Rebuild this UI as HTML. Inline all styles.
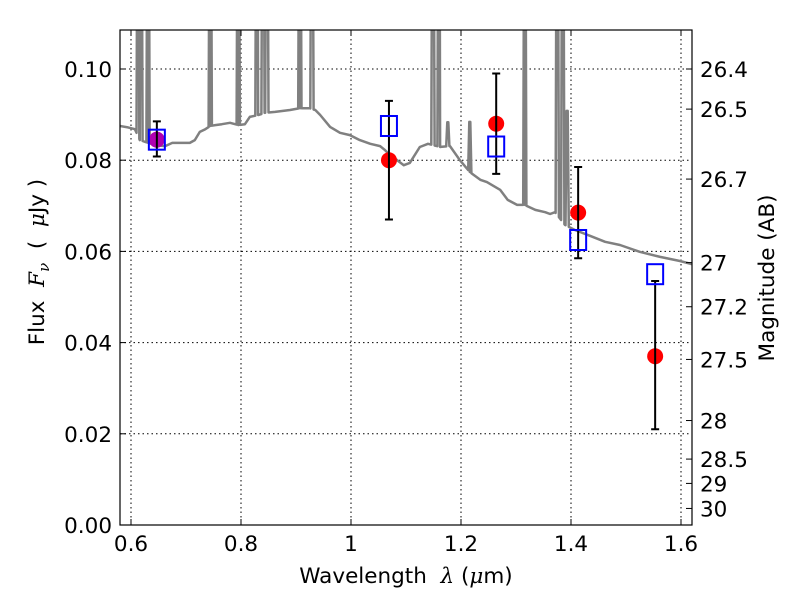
<!DOCTYPE html>
<html><head><meta charset="utf-8"><style>
body{margin:0;background:#fff}
svg text{font-family:"DejaVu Sans","Liberation Sans",sans-serif;font-size:21.5px;fill:#000}
</style></head><body>
<svg id="chart" width="800" height="600" xmlns="http://www.w3.org/2000/svg">
<defs><clipPath id="clip"><rect x="120" y="30" width="572" height="495"/></clipPath></defs>
<g id="grid"></g>
<g id="spec" clip-path="url(#clip)"></g>
<g id="marks"></g>
<rect x="120" y="30" width="572" height="495" fill="none" stroke="#000" stroke-width="1.2"/>
<g id="axes"></g>
<text x="406" y="583" text-anchor="middle" xml:space="preserve">Wavelength  <tspan font-style="italic" font-family="DejaVu Serif">λ</tspan> (<tspan font-style="italic" font-family="DejaVu Serif">μ</tspan>m)</text>
<text transform="translate(44,262) rotate(-90)" text-anchor="middle" xml:space="preserve">Flux  <tspan font-style="italic" font-family="DejaVu Serif">F</tspan><tspan font-style="italic" font-family="DejaVu Serif" font-size="15" dy="5">ν</tspan><tspan dy="-5">  (  </tspan><tspan font-style="italic" font-family="DejaVu Serif">μ</tspan>Jy )</text>
<text transform="translate(774,278) rotate(-90)" text-anchor="middle">Magnitude (AB)</text>
</svg>
<script>
const contLam=[0.580,0.5945,0.607,0.616,0.631,0.644,0.662,0.675,0.689,0.707,0.716,0.725,0.735,0.744,0.753,0.765,0.780,0.795,0.807,0.816,0.831,0.844,0.862,0.889,0.907,0.925,0.935,0.944,0.962,0.980,0.998,1.016,1.035,1.053,1.062,1.071,1.084,1.096,1.107,1.125,1.140,1.162,1.180,1.198,1.216,1.235,1.247,1.271,1.285,1.302,1.316,1.335,1.353,1.362,1.371,1.389,1.407,1.435,1.462,1.489,1.525,1.562,1.598,1.620];
const contFlux=[0.0875,0.0872,0.0868,0.0844,0.0838,0.0833,0.0831,0.0838,0.0838,0.0838,0.0844,0.0862,0.0868,0.0875,0.0877,0.0879,0.0882,0.0877,0.0879,0.0895,0.0899,0.0904,0.0906,0.0910,0.0914,0.0914,0.0910,0.0899,0.0873,0.0860,0.0855,0.0844,0.0836,0.0831,0.0822,0.0811,0.0800,0.0789,0.0794,0.0829,0.0836,0.0829,0.0831,0.0800,0.0774,0.0757,0.0752,0.0735,0.0713,0.0702,0.0702,0.0691,0.0686,0.0682,0.0686,0.0658,0.0647,0.0634,0.0621,0.0614,0.0599,0.0588,0.0579,0.0572];
const lineLam=[0.613,0.618,0.631,0.744,0.795,0.829,0.840,0.847,0.907,0.929,1.149,1.160,1.176,1.216,1.316,1.375,1.385,1.393];
const linePeak=[0.15,0.15,0.15,0.15,0.15,0.15,0.15,0.15,0.15,0.15,0.15,0.15,0.0883,0.0884,0.15,0.15,0.15,0.0908];
const photLam=[0.647,1.069,1.264,1.413,1.553];
const obsFlux=[0.0845,0.080,0.088,0.0685,0.037];
const errLo=[0.0808,0.067,0.077,0.0585,0.021];
const errHi=[0.0885,0.093,0.099,0.0785,0.0535];
const modelFlux=[0.0845,0.0875,0.083,0.0625,0.055];
const xTicks=[0.6,0.8,1.0,1.2,1.4,1.6];
const xTickLabels=["0.6","0.8","1","1.2","1.4","1.6"];
const yTicks=[0,0.02,0.04,0.06,0.08,0.10];
const yTickLabels=["0.00","0.02","0.04","0.06","0.08","0.10"];
const magTicks=[26.4,26.5,26.7,27,27.2,27.5,28,28.5,29,30];
const magTickLabels=["26.4","26.5","26.7","27","27.2","27.5","28","28.5","29","30"];
const X0=120,X1=692,Y0=525,Y1=30,xmin=0.58,xmax=1.62,ymin=0,ymax=0.10855;
const sx=v=>X0+(v-xmin)/(xmax-xmin)*(X1-X0);
const sy=v=>Y0-(v-ymin)/(ymax-ymin)*(Y0-Y1);
const NS="http://www.w3.org/2000/svg";
function mk(tag,attrs,parent){const e=document.createElementNS(NS,tag);for(const k in attrs)e.setAttribute(k,attrs[k]);parent.appendChild(e);return e;}
const grid=document.getElementById('grid'),axes=document.getElementById('axes');
xTicks.forEach((t,i)=>{
  const g=mk('line',{x1:sx(t),x2:sx(t),y1:Y1,y2:Y0,stroke:'#000','stroke-dasharray':'1.5,3','stroke-width':1},grid);
  
  
  const tk=mk('path',{d:`M${sx(t)},${Y0}v-6M${sx(t)},${Y1}v6`,stroke:'#000'},axes);
  
  
  const l=mk('text',{x:sx(t),y:Y0+26,'text-anchor':'middle'},axes);l.textContent=xTickLabels[i];
  
  
});
yTicks.forEach((t,i)=>{
  if(t>0){const g=mk('line',{x1:X0,x2:X1,y1:sy(t),y2:sy(t),stroke:'#000','stroke-dasharray':'1.5,3','stroke-width':1},grid);
  
  }
  const tk=mk('path',{d:`M${X0},${sy(t)}h6`,stroke:'#000'},axes);
  
  
  const l=mk('text',{x:X0-8,y:sy(t)+8,'text-anchor':'end'},axes);l.textContent=yTickLabels[i];
  
  
});
magTicks.forEach((m,i)=>{
  const f=Math.pow(10,(23.9-m)/2.5);const y=sy(f);
  const tk=mk('path',{d:`M${X1},${y}h-6`,stroke:'#000'},axes);
  
  
  const l=mk('text',{x:X1+8,y:y+8,'text-anchor':'start'},axes);l.textContent=magTickLabels[i];
  
  
});
function cont(l){for(let i=0;i<contLam.length-1;i++){if(l>=contLam[i]&&l<=contLam[i+1]){const t=(l-contLam[i])/(contLam[i+1]-contLam[i]);return contFlux[i]+t*(contFlux[i+1]-contFlux[i]);}}return contFlux[contFlux.length-1];}
let pts=contLam.map((l,i)=>[l,contFlux[i]]);
lineLam.forEach((l,i)=>{pts.push([l-0.003,cont(l-0.003)]);pts.push([l-0.001,linePeak[i]]);pts.push([l+0.001,linePeak[i]]);pts.push([l+0.003,cont(l+0.003)]);});
pts.sort((a,b)=>a[0]-b[0]);
const sp=mk('path',{d:'M'+pts.map(p=>sx(p[0]).toFixed(1)+','+sy(p[1]).toFixed(1)).join('L'),fill:'none',stroke:'#808080','stroke-width':2.5,'stroke-linejoin':'round'},document.getElementById('spec'));


const marks=document.getElementById('marks');
photLam.forEach((l,i)=>{
  const x=sx(l);
  const c=mk('circle',{cx:x,cy:sy(obsFlux[i]),r:8,fill:i===0?'#b000b0':'#f00'},marks);
  
  
  const e=mk('path',{d:`M${x},${sy(errLo[i])}V${sy(errHi[i])}M${x-4},${sy(errLo[i])}h8M${x-4},${sy(errHi[i])}h8`,stroke:'#000','stroke-width':2},marks);
  
  
  const s=mk('rect',{x:x-8,y:sy(modelFlux[i])-10,width:16,height:20,fill:'none',stroke:'#00f','stroke-width':2},marks);
  
  
});
</script>
</body></html>
